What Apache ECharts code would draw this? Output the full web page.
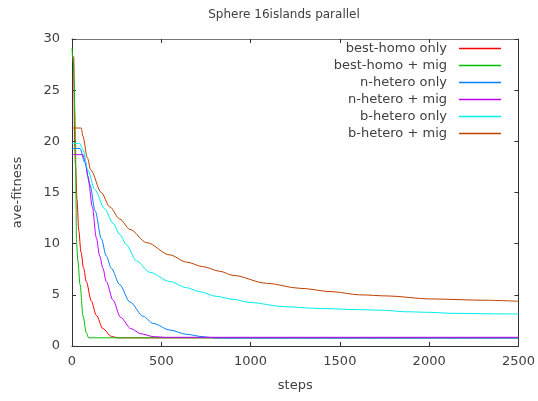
<!DOCTYPE html>
<html>
<head>
<meta charset="utf-8">
<script src="https://cdn.jsdelivr.net/npm/echarts@6/dist/echarts.min.js"></script>
<style>
html,body{margin:0;padding:0;background:#fff;}
#chart{width:538px;height:401px;}
</style>
</head>
<body>
<div id="chart"></div>
<script>
const titleText = 'Sphere 16islands parallel';
const xName = 'steps';
const yName = 'ave-fitness';
const xTicks = [0, 500, 1000, 1500, 2000, 2500];
const yTicks = [0, 5, 10, 15, 20, 25, 30];
const seriesNames = ['best-homo only', 'best-homo + mig', 'n-hetero only', 'n-hetero + mig', 'b-hetero only', 'b-hetero + mig'];

const redSteps = [0, 10, 12, 14, 20, 28, 38, 50, 65, 80, 108, 136, 173, 220, 255, 2500];
const redVals  = [28.5, 28.2, 24, 20, 17.5, 14.3, 11.3, 9.2, 7.6, 6.3, 4.4, 3.0, 1.7, 0.95, 0.8, 0.8];

const greenSteps = [0, 8, 12, 16, 20, 22, 25, 33, 45, 62, 80, 93, 2500];
const greenVals  = [29.1, 27.7, 26, 23, 20, 15, 10.2, 8.3, 6, 2.9, 1.3, 0.8, 0.8];

const blueSteps = [0, 45, 70, 100, 130, 164, 192, 220, 267, 324, 399, 455, 548, 641, 734, 800, 2500];
const blueVals  = [19.3, 19.3, 18.0, 15.8, 13.2, 10.5, 8.8, 7.6, 6.0, 4.3, 2.9, 2.2, 1.56, 1.14, 0.91, 0.78, 0.78];

const magentaSteps = [0, 61, 75, 89, 114, 136, 155, 173, 192, 229, 272, 330, 385, 455, 520, 2500];
const magentaVals  = [18.7, 18.7, 18.0, 16.6, 13.6, 10.6, 8.8, 7.6, 6.3, 4.5, 2.8, 1.7, 1.2, 0.92, 0.85, 0.85];

const cyanSteps = [0, 43, 61, 89, 127, 183, 229, 268, 304, 362, 436, 548, 641, 716, 809, 902, 996, 1182, 1368, 1611, 1750, 1862, 2002, 2132, 2440, 2500];
const cyanVals  = [19.8, 19.8, 19.2, 17.2, 15.3, 13.4, 12.0, 10.9, 9.9, 8.3, 7.2, 6.3, 5.7, 5.3, 4.85, 4.56, 4.26, 3.85, 3.68, 3.55, 3.49, 3.35, 3.29, 3.19, 3.13, 3.13];

const orangeSteps = [0, 52, 61, 86, 105, 164, 211, 268, 324, 418, 548, 641, 734, 828, 902, 1089, 1275, 1461, 1611, 1769, 2002, 2319, 2500];
const orangeVals  = [21.3, 21.3, 20.5, 18.4, 17.2, 15.0, 13.6, 12.4, 11.4, 10.1, 8.9, 8.2, 7.75, 7.3, 6.9, 6.13, 5.64, 5.3, 5.0, 4.89, 4.6, 4.47, 4.37];

const colors = ['#ff0000', '#00c000', '#0080ff', '#c000ff', '#00eeee', '#c04000'];
const stepsList = [redSteps, greenSteps, blueSteps, magentaSteps, cyanSteps, orangeSteps];
const valsList = [redVals, greenVals, blueVals, magentaVals, cyanVals, orangeVals];

const font = 'DejaVu Sans';
const txt = '#404040';

const series = seriesNames.map((name, i) => ({
  name: name,
  type: 'line',
  xAxisIndex: 0,
  yAxisIndex: 0,
  data: stepsList[i].map((s, j) => [s, valsList[i][j]]),
  symbol: 'none',
  smooth: 0.3,
  smoothMonotone: 'x',
  lineStyle: { width: 1, color: colors[i] },
  itemStyle: { color: colors[i] },
  animation: false
}));

const chart = echarts.init(document.getElementById('chart'));
chart.setOption({
  animation: false,
  backgroundColor: '#fff',
  title: {
    text: titleText,
    left: 279,
    top: 4,
    textAlign: 'center',
    textStyle: { fontFamily: font, fontSize: 12, fontWeight: 'normal', color: txt }
  },
  legend: {
    orient: 'vertical',
    right: 32,
    top: 37,
    align: 'right',
    icon: 'rect',
    itemWidth: 42,
    itemHeight: 1.5,
    itemGap: 4.0,
    textStyle: { fontFamily: font, fontSize: 13, color: txt, padding: [0, 7, 0, 0] },
    data: seriesNames
  },
  grid: { left: 72, right: 19, top: 39, bottom: 55, show: false },
  xAxis: [{
    type: 'value', min: 0, max: 2500, interval: 500,
    name: xName, nameLocation: 'middle', nameGap: 33,
    nameTextStyle: { fontFamily: font, fontSize: 13, color: txt },
    axisLine: { show: true, onZero: false, lineStyle: { color: '#333', width: 1 } },
    axisTick: { show: true, inside: true, length: 4, lineStyle: { color: '#333' } },
    axisLabel: { fontFamily: font, fontSize: 13, color: txt, margin: 9, formatter: v => String(v) },
    splitLine: { show: false }
  }, {
    type: 'value', min: 0, max: 2500, interval: 500, position: 'top',
    axisLine: { show: true, onZero: false, lineStyle: { color: '#777', width: 1 } },
    axisTick: { show: true, inside: true, length: 4, lineStyle: { color: '#333' } },
    axisLabel: { show: false },
    splitLine: { show: false }
  }],
  yAxis: [{
    type: 'value', min: 0, max: 30, interval: 5,
    name: yName, nameLocation: 'middle', nameGap: 48, nameRotate: 90,
    nameTextStyle: { fontFamily: font, fontSize: 13, color: txt },
    axisLine: { show: true, onZero: false, lineStyle: { color: '#333', width: 1 } },
    axisTick: { show: true, inside: true, length: 4, lineStyle: { color: '#333' } },
    axisLabel: { fontFamily: font, fontSize: 13, color: txt, margin: 12 },
    splitLine: { show: false }
  }, {
    type: 'value', min: 0, max: 30, interval: 5, position: 'right',
    axisLine: { show: true, onZero: false, lineStyle: { color: '#333', width: 1 } },
    axisTick: { show: true, inside: true, length: 4, lineStyle: { color: '#333' } },
    axisLabel: { show: false },
    splitLine: { show: false }
  }],
  series: series
});
</script>
</body>
</html>
